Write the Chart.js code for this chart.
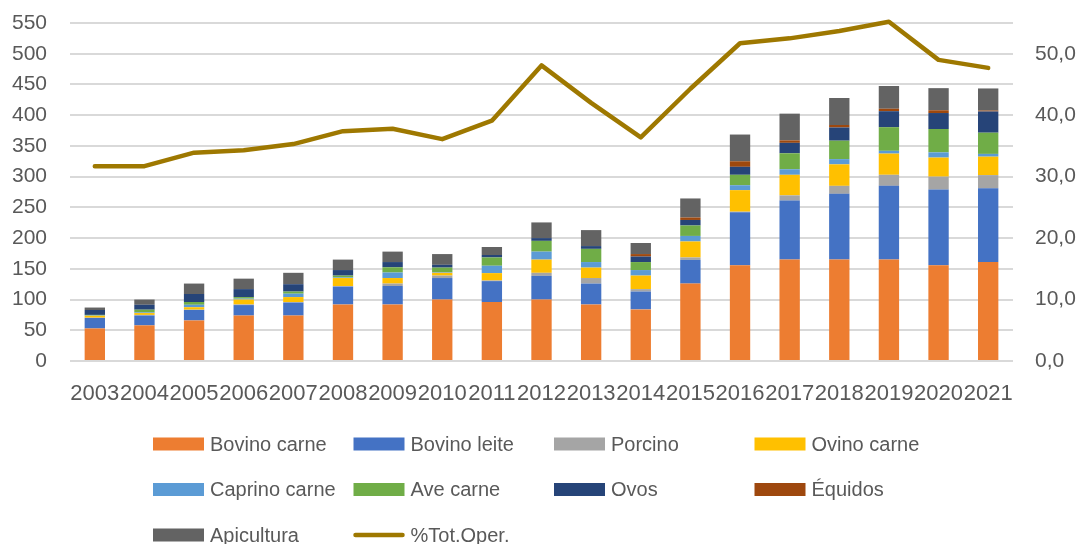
<!DOCTYPE html>
<html>
<head>
<meta charset="utf-8">
<script src="https://cdn.jsdelivr.net/npm/chart.js@4"></script>
<style>
  html, body { margin: 0; padding: 0; background: #fff; }
  #wrap { width: 1081px; height: 544px; position: relative; }
</style>
</head>
<body>
<div id="wrap"><canvas id="chart"></canvas></div>
<script>
const years = ['2003','2004','2005','2006','2007','2008','2009','2010','2011','2012',
               '2013','2014','2015','2016','2017','2018','2019','2020','2021'];

const bovinoCarne  = [53, 58, 66, 74, 74, 92, 92, 100, 96, 100, 92, 84, 126, 156, 165, 165, 165, 156, 161];
const bovinoLeite  = [17, 16, 17, 17, 21, 29, 30, 35, 34, 38.5, 34, 29, 38.5, 86, 96, 107, 120, 123, 120];
const porcino      = [0.5, 1, 0.5, 1, 1, 1, 4, 4, 1, 5, 9, 4, 4, 1, 8.5, 13, 18, 21, 21.5];
const ovinoCarne   = [3, 3, 4, 8, 8, 13, 9, 4.5, 12, 21.5, 17, 22, 26, 35, 33.5, 35, 34.5, 31, 30];
const caprinoCarne = [0.5, 1, 4, 1.5, 5.5, 1, 9, 1, 12, 13, 9, 9, 9, 8, 9, 8.5, 4.5, 8.5, 4.5];
const aveCarne     = [1, 4.5, 4.5, 2.5, 3.5, 3, 8.5, 7.5, 13.5, 17.5, 21.5, 13, 17, 17, 26, 30, 38.5, 38, 34.5];
const ovos         = [8, 8, 13, 13, 12, 9, 8.5, 4.5, 4, 4.5, 4.5, 9, 9, 13, 17, 21.5, 26, 26, 34.5];
const equidos      = [0, 0, 0, 0, 0, 0, 0, 0, 0, 0, 0, 4, 4, 9, 4, 4, 4, 4.5, 1.5];
const apicultura   = [4, 8.5, 17, 17, 18.5, 17, 17, 17.5, 13, 25.5, 26, 18, 31, 43.5, 43.5, 44, 37, 36, 36];
const pctTotOper   = [31.7, 31.7, 33.9, 34.3, 35.3, 37.4, 37.8, 36.1, 39.1, 48.1,
                      42.0, 36.4, 44.3, 51.7, 52.5, 53.7, 55.2, 49.0, 47.7];

const leftTicks = [0, 50, 100, 150, 200, 250, 300, 350, 400, 450, 500, 550];
const rightTicks = [0, 10, 20, 30, 40, 50];

const FONT = '"Liberation Sans", Arial, sans-serif';
const TXT = '#595959';

function bar(label, data, color) {
  return { type: 'bar', label, data, backgroundColor: color, borderWidth: 0,
           yAxisID: 'y', order: 1, barPercentage: 0.41, categoryPercentage: 1 };
}

const gridLegend = {
  id: 'gridLegend',
  afterDraw(chart) {
    const ctx = chart.ctx;
    ctx.save();
    ctx.font = '20px ' + FONT;
    ctx.textBaseline = 'middle';
    chart.data.datasets.forEach((ds, i) => {
      const x = 153 + (i % 4) * 200.5;
      const y = 444 + Math.floor(i / 4) * 45.5;
      if (ds.type === 'line') {
        ctx.strokeStyle = ds.borderColor;
        ctx.lineWidth = 4.5;
        ctx.lineCap = 'round';
        ctx.beginPath();
        ctx.moveTo(x + 2, y);
        ctx.lineTo(x + 49, y);
        ctx.stroke();
      } else {
        ctx.fillStyle = ds.backgroundColor;
        ctx.fillRect(x, y - 6.5, 51, 13);
      }
      ctx.fillStyle = TXT;
      ctx.fillText(ds.label, x + 57, y + 1);
    });
    ctx.restore();
  }
};

new Chart(document.getElementById('chart'), {
  type: 'bar',
  data: {
    labels: years,
    datasets: [
      bar('Bovino carne', bovinoCarne, '#ED7D31'),
      bar('Bovino leite', bovinoLeite, '#4472C4'),
      bar('Porcino', porcino, '#A5A5A5'),
      bar('Ovino carne', ovinoCarne, '#FFC000'),
      bar('Caprino carne', caprinoCarne, '#5B9BD5'),
      bar('Ave carne', aveCarne, '#70AD47'),
      bar('Ovos', ovos, '#264478'),
      bar('Équidos', equidos, '#9E480E'),
      bar('Apicultura', apicultura, '#636363'),
      {
        type: 'line', label: '%Tot.Oper.', data: pctTotOper, yAxisID: 'y1', order: 0,
        borderColor: '#9E7800', borderWidth: 4.5, pointRadius: 0, tension: 0,
        borderCapStyle: 'round', borderJoinStyle: 'round', clip: false
      }
    ]
  },
  options: {
    responsive: true,
    maintainAspectRatio: false,
    animation: false,
    layout: { padding: { top: 23, left: 0, right: 0, bottom: 0 } },
    plugins: { legend: { display: false }, tooltip: { enabled: false } },
    scales: {
      x: {
        stacked: true,
        grid: { display: false, drawTicks: false },
        border: { display: false },
        ticks: { color: TXT, font: { family: FONT, size: 22 }, padding: 20,
                 autoSkip: false, maxRotation: 0, minRotation: 0 },
        afterFit(s) { s.height = 183; }
      },
      y: {
        stacked: true, position: 'left', min: 0, max: 550,
        afterBuildTicks(s) { s.ticks = leftTicks.map(v => ({ value: v })); },
        grid: { color: '#D9D9D9', lineWidth: 2, drawTicks: false },
        border: { display: false },
        ticks: { color: TXT, font: { family: FONT, size: 21 }, padding: 23 },
        afterFit(s) { s.width = 70; s.paddingTop = 0; s.paddingBottom = 0; }
      },
      y1: {
        position: 'right', min: 0, max: 55,
        afterBuildTicks(s) { s.ticks = rightTicks.map(v => ({ value: v })); },
        grid: { display: false, drawTicks: false },
        border: { display: false },
        ticks: { color: TXT, font: { family: FONT, size: 21 }, padding: 22,
                 callback: v => v.toFixed(1).replace('.', ',') },
        afterFit(s) { s.width = 68; s.paddingTop = 0; s.paddingBottom = 0; }
      }
    }
  },
  plugins: [gridLegend]
});
</script>
</body>
</html>
